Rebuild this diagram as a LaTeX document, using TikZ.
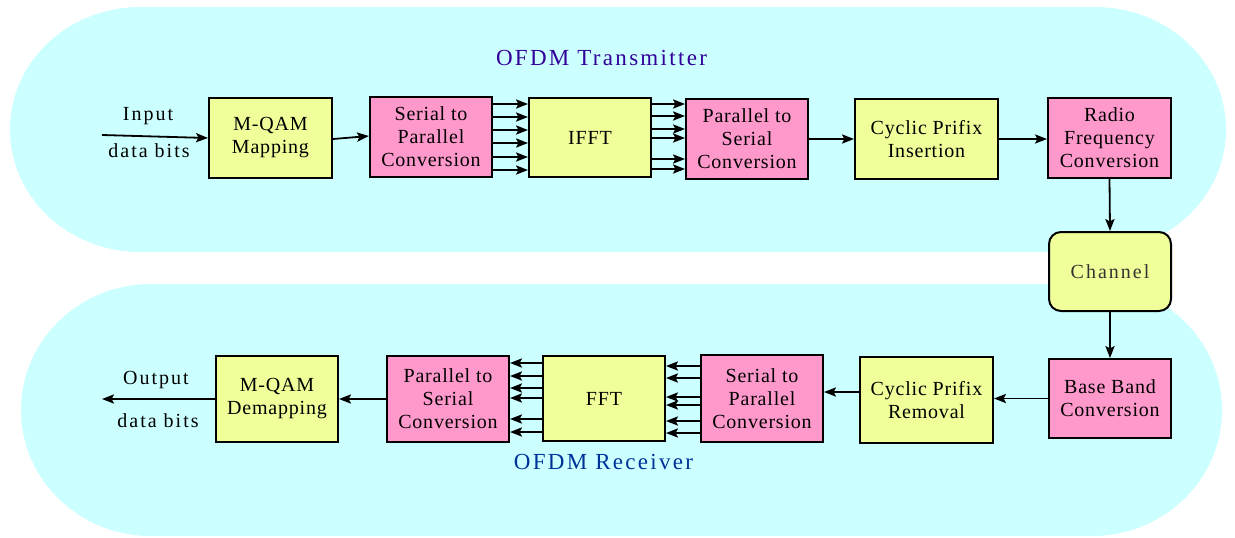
\documentclass[tikz,border=0pt]{standalone}
\usepackage{fontspec}
\setmainfont{Liberation Serif}
\newfontfamily\boxfont[LetterSpace=4]{Liberation Serif}
\newfontfamily\widefont[LetterSpace=10]{Liberation Serif}
\usetikzlibrary{arrows.meta}
\definecolor{bandcyan}{RGB}{204,255,255}
\definecolor{blockyellow}{RGB}{240,255,153}
\definecolor{blockpink}{RGB}{255,153,204}
\definecolor{txtitle}{RGB}{51,0,153}
\definecolor{rxtitle}{RGB}{0,51,153}
\definecolor{chtext}{RGB}{51,51,51}

\begin{document}
\begin{tikzpicture}[x=0.5pt,y=-0.5pt,
  block/.style={draw=black, line width=1pt, align=center, inner sep=0pt,
    font=\boxfont\fontsize{10}{11.5}\selectfont, text=black},
  ybox/.style={block, fill=blockyellow},
  pbox/.style={block, fill=blockpink},
  arr/.style={line width=0.9pt, -{Stealth[length=6pt,width=4.6pt,inset=1.2pt]}},
  lbl/.style={font=\widefont\fontsize{10}{12}\selectfont, inner sep=0pt},
  ttl/.style={font=\widefont\fontsize{11.5}{13}\selectfont, inner sep=0pt}]

\useasboundingbox (0,0) rectangle (1235,537);

% stadium-shaped bands for transmitter and receiver
\fill[bandcyan] (140,7) -- (1095,7)
  arc[start angle=-90, end angle=90, x radius=131, y radius=122.5]
  -- (140,252)
  arc[start angle=90, end angle=270, x radius=130, y radius=122.5] -- cycle;
\fill[bandcyan] (151,284) -- (1092,284)
  arc[start angle=-90, end angle=90, x radius=130, y radius=126]
  -- (151,536)
  arc[start angle=90, end angle=270, x radius=130, y radius=126] -- cycle;

\node[ttl, text=txtitle] (txt) at (601.5,58) {OFDM Transmitter};
\node[ttl, text=rxtitle] (rxt) at (603.5,462) {OFDM Receiver};

% transmitter chain
\node[ybox, minimum width=61.5pt, minimum height=40pt] (map) at (270.5,138) {M-QAM\\Mapping};
\node[pbox, minimum width=61pt, minimum height=40pt] (sp) at (431,137) {Serial to\\Parallel\\Conversion};
\node[ybox, minimum width=61pt, minimum height=39.5pt] (ifft) at (590,137.5) {IFFT};
\node[pbox, minimum width=61pt, minimum height=40pt] (ps) at (747,139) {Parallel to\\Serial\\Conversion};
\node[ybox, minimum width=71.5pt, minimum height=40pt] (cpi) at (926.5,139) {Cyclic Prifix\\Insertion};
\node[pbox, minimum width=61.5pt, minimum height=40pt] (rf) at (1109.5,138) {Radio\\Frequency\\Conversion};

% channel
\node[ybox, rounded corners=6pt, minimum width=61pt, minimum height=39.5pt,
  font=\widefont\fontsize{10}{12}\selectfont, text=chtext] (ch) at (1110,271.5) {Channel};

% receiver chain
\node[pbox, minimum width=61pt, minimum height=39.5pt] (bb) at (1110,398.5) {Base Band\\Conversion};
\node[ybox, minimum width=66.5pt, minimum height=43pt] (cpr) at (926.5,400) {Cyclic Prifix\\Removal};
\node[pbox, minimum width=61pt, minimum height=43.5pt] (sp2) at (762,398.5) {Serial to\\Parallel\\Conversion};
\node[ybox, minimum width=61pt, minimum height=42.5pt] (fft) at (604,398.5) {FFT};
\node[pbox, minimum width=61pt, minimum height=43pt] (ps2) at (448,399) {Parallel to\\Serial\\Conversion};
\node[ybox, minimum width=61pt, minimum height=43pt] (demap) at (277,399) {M-QAM\\Demapping};

% input and output labels
\coordinate (in) at (102,135);
\coordinate (out) at (102,399);
\node[lbl] (inA) at (148,116) {Input};
\node[lbl] (inB) at (149,151) {data bits};
\node[lbl] (outA) at (156,380) {Output};
\node[lbl] (outB) at (158,421) {data bits};

% transmitter connectors
\draw[arr] (in) -- (map.west);
\draw[arr] ([yshift=-0.5pt]map.east) -- ([yshift=0.5pt]sp.west);
\foreach \y in {104,117,130,143,157,170}
  \draw[arr] (sp.east |- 0,\y) -- (ifft.west |- 0,\y);
\foreach \y in {104,116,129,138,159,169}
  \draw[arr] (ifft.east |- 0,\y) -- (ps.west |- 0,\y);
\draw[arr] (ps.east) -- (cpi.west);
\draw[arr] (cpi.east) -- (cpi.east -| rf.west);
\draw[arr] (rf.south) -- (ch.north);
\draw[arr] (ch.south) -- (bb.north);

% receiver connectors
\draw[arr] (bb.west) -- (cpr.east |- bb.west);
\draw[arr] (cpr.west |- 0,392) -- (sp2.east |- 0,392);
\foreach \y in {366,378,397,405,421,433}
  \draw[arr] (sp2.west |- 0,\y) -- (fft.east |- 0,\y);
\foreach \y in {363,376,388,398,419,432}
  \draw[arr] (fft.west |- 0,\y) -- (ps2.east |- 0,\y);
\draw[arr] (ps2.west) -- (demap.east);
\draw[arr] (demap.west) -- (out);
\end{tikzpicture}
\end{document}
